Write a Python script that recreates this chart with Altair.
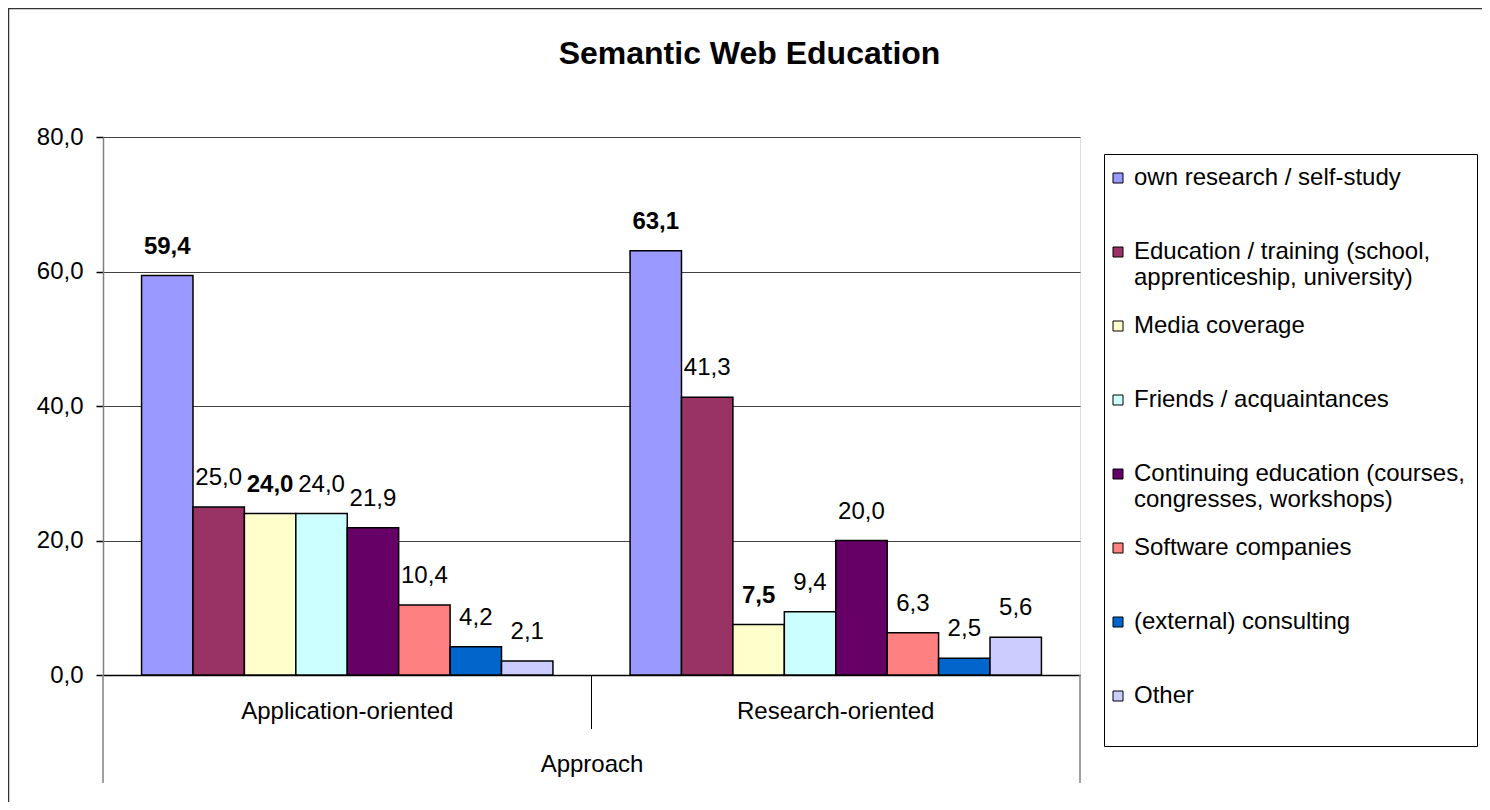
import altair as alt
import pandas as pd

FONT = "Liberation Sans, Arial, sans-serif"

# ---- data ----
approaches = ["Application-oriented", "Research-oriented"]
sources = [
    "own research / self-study",
    "Education / training (school, apprenticeship, university)",
    "Media coverage",
    "Friends / acquaintances",
    "Continuing education (courses, congresses, workshops)",
    "Software companies",
    "(external) consulting",
    "Other",
]
legend_lines = [
    ["own research / self-study", " "],
    ["Education / training (school,", "apprenticeship, university)"],
    ["Media coverage", " "],
    ["Friends / acquaintances", " "],
    ["Continuing education (courses,", "congresses, workshops)"],
    ["Software companies", " "],
    ["(external) consulting", " "],
    ["Other", " "],
]
colors = ["#9999FF", "#993366", "#FFFFCC", "#CCFFFF", "#660066", "#FF8080", "#0066CC", "#CCCCFF"]
app_values = [59.4, 25.0, 24.0, 24.0, 21.9, 10.4, 4.2, 2.1]
res_values = [63.1, 41.3, 7.5, 9.4, 20.0, 6.3, 2.5, 5.6]
bold_sources = ["own research / self-study", "Media coverage"]
y_ticks = [0, 20, 40, 60, 80]

rows = []
for appr, vals in zip(approaches, [app_values, res_values]):
    for s, v in zip(sources, vals):
        rows.append({
            "approach": appr,
            "source": s,
            "value": v,
            "label": f"{v:.1f}".replace(".", ","),
            "bold": s in bold_sources,
        })
df = pd.DataFrame(rows)

# legend label wrapping expression (every entry takes two lines, as in the original)
parts = []
for s, lines in zip(sources, legend_lines):
    arr = "[" + ", ".join("'" + l + "'" for l in lines) + "]"
    parts.append(f"datum.label == '{s}' ? {arr} : ")
legend_expr = "".join(parts) + "datum.label"

W, H = 977, 538

x_axis = alt.Axis(
    title="Approach", labelAngle=0, ticks=False, tickSize=0,
    labelPadding=24, titlePadding=29, labelFontSize=24, titleFontSize=24,
    titleFontWeight="normal", domainColor="black", domainWidth=1.5,
    labelColor="black", titleColor="black", grid=False, labelLimit=400,
    labelFont=FONT, titleFont=FONT,
)
x_scale = alt.Scale(paddingInner=0, paddingOuter=0)
x_enc = alt.X("approach:N", sort=approaches, scale=x_scale, axis=x_axis)
xo_enc = alt.XOffset("source:N", sort=sources, scale=alt.Scale(paddingInner=0, paddingOuter=0.75))
y_enc = alt.Y(
    "value:Q",
    scale=alt.Scale(domain=[0, 80], nice=False),
    axis=alt.Axis(
        values=y_ticks, title=None,
        labelExpr="replace(format(datum.value, '.1f'), '.', ',')",
        tickSize=7, labelPadding=13, tickColor="black", tickWidth=1.5,
        domainColor="#808080", domainWidth=1.5, gridColor="#404040", gridWidth=1,
        labelFontSize=24, labelColor="black", labelFont=FONT,
    ),
)

bars = alt.Chart(df).mark_bar(stroke="black", strokeWidth=1.5).encode(
    x=x_enc,
    xOffset=xo_enc,
    y=y_enc,
    color=alt.Color(
        "source:N",
        sort=sources,
        scale=alt.Scale(domain=sources, range=colors),
        legend=alt.Legend(
            orient="none", legendX=1001, legendY=17, title=None,
            symbolType="square", symbolSize=100, symbolStrokeColor="black",
            symbolStrokeWidth=1, symbolOffset=-10, labelFontSize=24, labelFont=FONT,
            labelLimit=420, labelOffset=4, rowPadding=24, padding=12,
            strokeColor="black", fillColor="white", labelColor="black",
            labelExpr=legend_expr,
        ),
    ),
)

labels_normal = alt.Chart(df).transform_filter("!datum.bold").mark_text(
    dy=-22, baseline="alphabetic", fontSize=24, font=FONT, color="black"
).encode(x=x_enc, xOffset=xo_enc, y=y_enc, text="label:N")

labels_bold = alt.Chart(df).transform_filter("datum.bold").mark_text(
    dy=-22, baseline="alphabetic", fontSize=24, font=FONT, color="black", fontWeight="bold"
).encode(x=x_enc, xOffset=xo_enc, y=y_enc, text="label:N")

# category separator below the axis (at the start of the second band)
sep = alt.Chart(pd.DataFrame({"approach": approaches[1:]})).mark_rule(
    color="black", strokeWidth=1
).encode(
    x=alt.X("approach:N", sort=approaches, bandPosition=0, scale=x_scale, axis=x_axis),
    y=alt.value(H),
    y2=alt.value(H + 54),
)

one = pd.DataFrame({"k": [0]})
outer_left = alt.Chart(one).mark_rule(color="#808080", strokeWidth=1.5).encode(
    x=alt.value(0), y=alt.value(H), y2=alt.value(H + 108))
outer_right = alt.Chart(one).mark_rule(color="#808080", strokeWidth=1.5).encode(
    x=alt.value(W), y=alt.value(H), y2=alt.value(H + 108))

# chart frame (left and top edges)
frame_left = alt.Chart(one).mark_rule(color="#333333", strokeWidth=1.5).encode(
    x=alt.value(-94.5), y=alt.value(-128.5), y2=alt.value(H + 127))
frame_top = alt.Chart(one).mark_rule(color="#333333", strokeWidth=1.5).encode(
    x=alt.value(-95), x2=alt.value(W + 402), y=alt.value(-128.5))

chart = alt.layer(
    bars, labels_normal, labels_bold, sep, outer_left, outer_right, frame_left, frame_top
).properties(
    width=W,
    height=H,
    autosize=alt.AutoSizeParams(type="none"),
    padding={"left": 95, "top": 129, "right": 402, "bottom": 127},
    title=alt.TitleParams(
        "Semantic Web Education", fontSize=32, font=FONT, fontWeight="bold",
        anchor="middle", frame="group", dx=158, dy=88, offset=0,
        baseline="alphabetic", color="black",
    ),
).configure_view(
    fill="#C0C0C0", stroke="#808080", strokeWidth=1
).configure(background="white")

chart.save("out.html", embed_options={"renderer": "svg", "actions": False})
